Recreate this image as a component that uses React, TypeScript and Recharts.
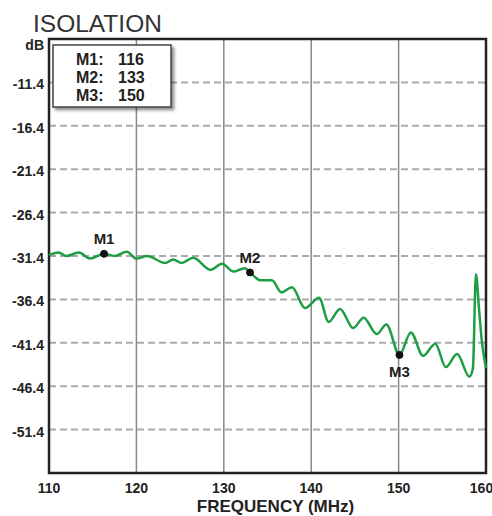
import {
	LineChart,
	Line,
	XAxis,
	YAxis,
	CartesianGrid,
	ReferenceArea,
	ReferenceDot,
} from 'recharts';

const FONT = '"Liberation Sans", Arial, sans-serif';

// frequency (MHz) and isolation (dB)
const freq = [
	110.0, 111.1, 112.0, 113.4, 114.7, 116.3, 117.5, 118.9, 120.0, 121.2,
	123.3, 124.2, 125.2, 126.5, 128.5, 129.8, 131.1, 132.4, 133.0, 134.2,
	135.5, 136.6, 137.8, 139.3, 140.9, 142.0, 143.3, 144.8, 146.0, 147.5,
	148.6, 150.1, 151.4, 152.8, 154.2, 155.4, 156.7, 158.1, 158.5, 158.85,
	159.2, 159.5, 160.0,
];
const isolation = [
	-31.3, -31.0, -31.4, -31.0, -31.7, -31.15, -31.4, -30.9, -31.7, -31.4,
	-32.2, -31.8, -32.2, -31.6, -33.0, -32.3, -33.2, -32.8, -33.3, -34.2,
	-34.2, -35.6, -35.0, -37.4, -36.2, -39.0, -37.5, -39.7, -38.5, -40.4,
	-39.3, -42.8, -40.2, -42.9, -41.5, -44.2, -42.7, -45.3, -44.4, -33.5,
	-37.5, -41.0, -44.3,
];

const markerNames = ['M1', 'M2', 'M3'];
const markerFreq = [116.3, 133.0, 150.1];
const markerDb = [-31.15, -33.3, -42.8];
const markerValues = [116, 133, 150];

const xTicks = [110, 120, 130, 140, 150, 160];
const yTicks = [-51.4, -46.4, -41.4, -36.4, -31.4, -26.4, -21.4, -16.4, -11.4, -6.4];

const data = freq.map((f, i) => ({ f, db: isolation[i] }));

const YTick = (props: any) => {
	const { x, y, payload } = props;
	const top = payload.value > -7;
	return (
		<text
			x={x}
			y={top ? y + 6 : y + 2}
			dy='0.355em'
			textAnchor='end'
			fontSize={14}
			fontWeight='bold'
			fontFamily={FONT}
			fill='#222'
		>
			{top ? 'dB' : payload.value.toFixed(1)}
		</text>
	);
};

const App = () => {
	return (
		<div style={{ position: 'absolute', left: 0, top: 0, width: 492, height: 516 }}>
			<LineChart
				width={492}
				height={516}
				data={data}
				margin={{ top: 39, right: 6, left: 0, bottom: 0 }}
			>
				<CartesianGrid
					vertical={false}
					stroke='#aaa'
					strokeWidth={2}
					strokeDasharray='7 4'
				/>
				<CartesianGrid horizontal={false} stroke='#888' strokeWidth={1.5} />
				<XAxis
					dataKey='f'
					type='number'
					domain={[110, 160]}
					ticks={xTicks}
					height={43}
					axisLine={false}
					tickLine={false}
					tickSize={0}
					tickMargin={10}
					tick={{ fontSize: 14, fontWeight: 'bold', fill: '#222', fontFamily: FONT }}
					label={{
						value: 'FREQUENCY (MHz)',
						position: 'insideBottom',
						offset: 4,
						dx: 8,
						fontSize: 17,
						fontWeight: 'bold',
						fill: '#222',
						fontFamily: FONT,
					}}
				/>
				<YAxis
					type='number'
					domain={[-56.4, -6.4]}
					ticks={yTicks}
					width={49}
					axisLine={false}
					tickLine={false}
					tickSize={0}
					tickMargin={5}
					tick={<YTick />}
				/>
				<ReferenceArea
					x1={110}
					x2={160}
					y1={-56.4}
					y2={-6.4}
					fill='none'
					stroke='#222'
					strokeWidth={2.5}
				/>
				<Line
					type='monotone'
					dataKey='db'
					stroke='#1e9e44'
					strokeWidth={2.5}
					dot={false}
					isAnimationActive={false}
				/>
				{markerNames.map((m, i) => (
					<ReferenceDot
						key={m}
						x={markerFreq[i]}
						y={markerDb[i]}
						r={3.5}
						fill='#111'
						stroke='#111'
						label={{
							value: m,
							position: i === 2 ? 'bottom' : 'top',
							offset: i === 2 ? 8 : 6,
							fontSize: 15,
							fontWeight: 'bold',
							fill: '#222',
							fontFamily: FONT,
						}}
					/>
				))}
			</LineChart>
			<svg
				width={492}
				height={516}
				style={{ position: 'absolute', left: 0, top: 0, pointerEvents: 'none' }}
			>
				<defs>
					<filter id='shadow' x='-10%' y='-10%' width='130%' height='130%'>
						<feDropShadow dx='2.5' dy='2.5' stdDeviation='1.5' floodColor='#000' floodOpacity='0.45' />
					</filter>
				</defs>
				<text x={33} y={32} fontSize={24.5} fontFamily={FONT} fill='#333'>
					ISOLATION
				</text>
				<rect
					x={53}
					y={45}
					width={118}
					height={62}
					fill='#fff'
					stroke='#444'
					strokeWidth={1.5}
					filter='url(#shadow)'
				/>
				{markerNames.map((m, i) => (
					<g key={m} fontSize={16} fontWeight='bold' fontFamily={FONT} fill='#222'>
						<text x={76} y={65 + i * 18}>{m + ':'}</text>
						<text x={118} y={65 + i * 18}>{markerValues[i]}</text>
					</g>
				))}
			</svg>
		</div>
	);
};

export default App;
